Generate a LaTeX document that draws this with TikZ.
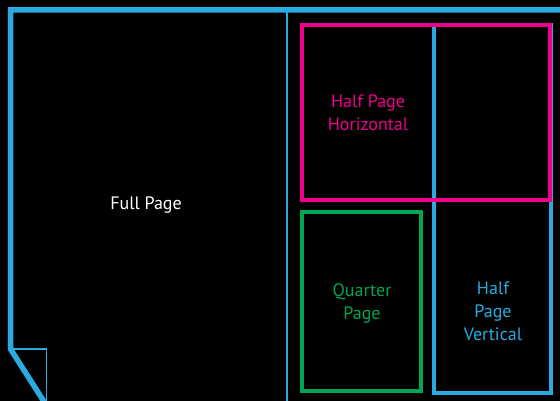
\documentclass[tikz,border=0pt]{standalone}
\usepackage{fontspec}
\setmainfont{PT Sans}
\definecolor{ccyan}{HTML}{29ABE2}
\definecolor{mmagenta}{HTML}{EC008C}
\definecolor{ggreen}{HTML}{00A651}

\begin{document}
\begin{tikzpicture}[x=1pt,y=-1pt,
    every node/.style={align=center,font=\fontsize{18}{23}\selectfont},
    adbox/.style={draw=#1,line width=4pt,inner sep=0pt,outer sep=0pt}]
	\fill[black] (0,0) rectangle (560,401);
	\clip (0,0) rectangle (560,401);
	% page sheet with folded corner
	\coordinate (tr) at (580,10);
	\coordinate (tl) at (10.5,10);
	\coordinate (bl) at (10.5,349);
	\coordinate (fold) at (46.5,349);
	\draw[ccyan,line width=5.5pt] (tr) -- (tl) -- (bl) -- ++(35,55);
	\draw[ccyan,line width=1.8pt] (bl) -- (fold) -- ++(0,60);
	\draw[ccyan,line width=2pt] (286.5,10) -- (286.5,410);
	% ad sizes
	\node[adbox=ccyan,minimum width=116.7,minimum height=367.4] (vert) at (492.35,209) {};
	\node[adbox=mmagenta,minimum width=248,minimum height=175.2] (horiz) at (426,112.9) {};
	\node[adbox=ggreen,minimum width=118.7,minimum height=179.3] (quarter) at (361.35,301.65) {};
	% labels
	\node[white] (lfull) at (146,205) {Full Page};
	\node[mmagenta] (lhoriz) at (368,113) {Half Page\\Horizontal};
	\node[ggreen] (lquarter) at (362,303) {Quarter\\Page};
	\node[ccyan] (lvert) at (493,311) {Half\\Page\\Vertical};
\end{tikzpicture}
\end{document}
